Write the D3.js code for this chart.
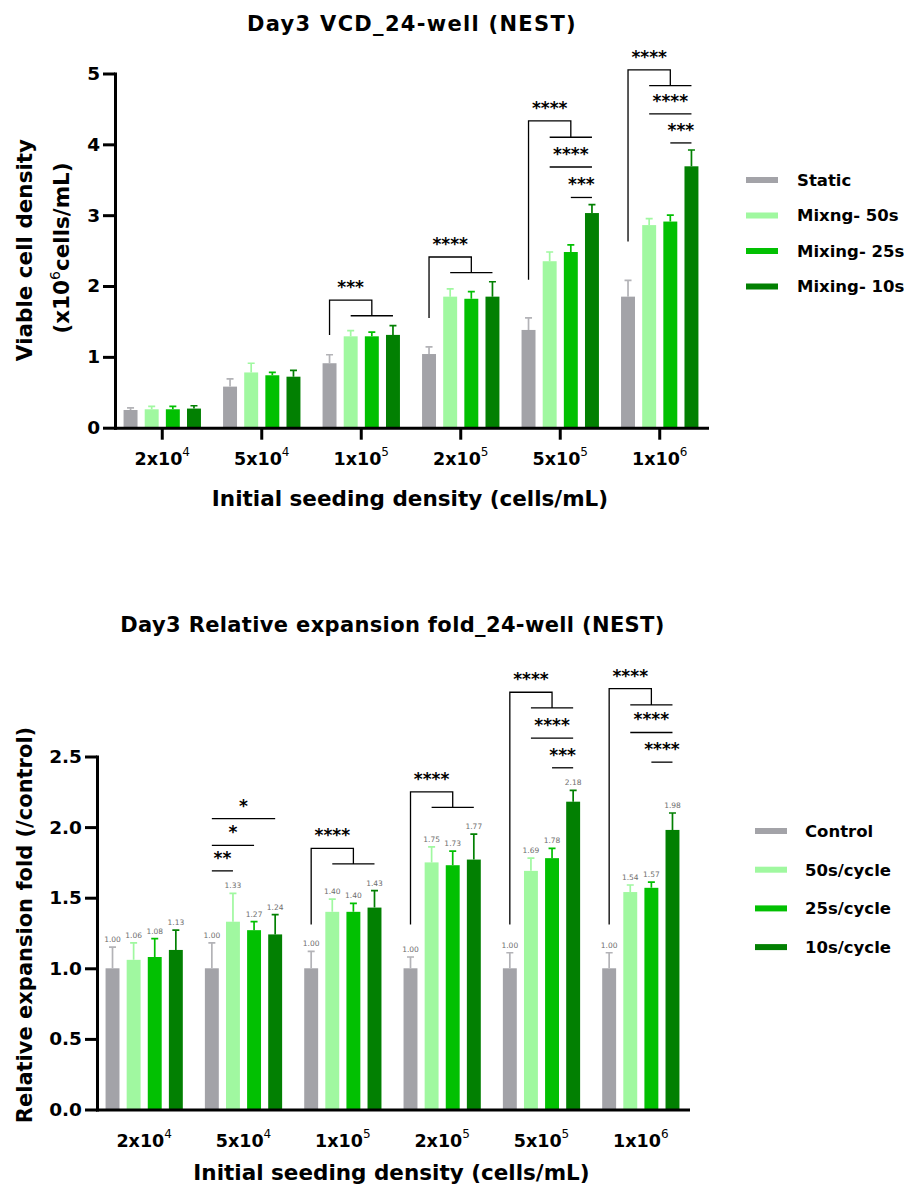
<!DOCTYPE html>
<html>
<head>
<meta charset="utf-8">
<script src="https://cdn.jsdelivr.net/npm/d3@7/dist/d3.min.js"></script>
<style>
  body { margin: 0; background: #fff; }
  svg { display: block; font-family: "DejaVu Sans", sans-serif; }
</style>
</head>
<body>
<svg id="fig" width="904" height="1187"></svg>
<script>
// Initial seeding densities (mantissa x 10^exponent)
const densities = ["2x10^4", "5x10^4", "1x10^5", "2x10^5", "5x10^5", "1x10^6"];

// Day 3 viable cell density (x10^6 cells/mL): mean and SD per density, per condition
const vcdSeries = ["Static", "Mixng- 50s", "Mixing- 25s", "Mixing- 10s"];
const vcdMean = [
  [0.25, 0.26, 0.26, 0.27],
  [0.58, 0.78, 0.74, 0.72],
  [0.91, 1.29, 1.29, 1.31],
  [1.04, 1.85, 1.82, 1.85],
  [1.38, 2.35, 2.48, 3.03],
  [1.85, 2.86, 2.91, 3.69]
];
const vcdSD = [
  [0.03, 0.04, 0.04, 0.04],
  [0.11, 0.13, 0.04, 0.09],
  [0.12, 0.08, 0.06, 0.13],
  [0.10, 0.11, 0.10, 0.21],
  [0.17, 0.13, 0.10, 0.12],
  [0.23, 0.09, 0.09, 0.23]
];
const vcdTicks = [0, 1, 2, 3, 4, 5];

// Day 3 expansion fold relative to the static control
const foldSeries = ["Control", "50s/cycle", "25s/cycle", "10s/cycle"];
const foldMean = [
  [1.00, 1.06, 1.08, 1.13],
  [1.00, 1.33, 1.27, 1.24],
  [1.00, 1.40, 1.40, 1.43],
  [1.00, 1.75, 1.73, 1.77],
  [1.00, 1.69, 1.78, 2.18],
  [1.00, 1.54, 1.57, 1.98]
];
const foldSD = [
  [0.15, 0.12, 0.13, 0.14],
  [0.18, 0.20, 0.06, 0.14],
  [0.12, 0.09, 0.06, 0.12],
  [0.08, 0.11, 0.10, 0.18],
  [0.11, 0.09, 0.07, 0.08],
  [0.11, 0.05, 0.04, 0.12]
];
const foldTicks = [0, 0.5, 1.0, 1.5, 2.0, 2.5];

// Significance annotations (levels in data units).
// bracket: control vs. the three mixing conditions; line: pairwise comparison
const vcdSig = [
  { group: 2, kind: "bracket", stars: "***",  leg: 1.31, top: 1.80, sub: 1.58 },
  { group: 3, kind: "bracket", stars: "****", leg: 1.55, top: 2.41, sub: 2.19 },
  { group: 4, kind: "bracket", stars: "****", leg: 2.09, top: 4.33, sub: 4.10 },
  { group: 4, kind: "line", from: 1, to: 3, stars: "****", at: 3.68 },
  { group: 4, kind: "line", from: 2, to: 3, stars: "***",  at: 3.25 },
  { group: 5, kind: "bracket", stars: "****", leg: 2.63, top: 5.05, sub: 4.83 },
  { group: 5, kind: "line", from: 1, to: 3, stars: "****", at: 4.43 },
  { group: 5, kind: "line", from: 2, to: 3, stars: "***",  at: 4.02 }
];
const foldSig = [
  { group: 1, kind: "line", from: 0, to: 3, stars: "*",  at: 2.06 },
  { group: 1, kind: "line", from: 0, to: 2, stars: "*",  at: 1.87 },
  { group: 1, kind: "line", from: 0, to: 1, stars: "**", at: 1.69 },
  { group: 2, kind: "bracket", stars: "****", leg: 1.31, top: 1.85, sub: 1.74 },
  { group: 3, kind: "bracket", stars: "****", leg: 1.31, top: 2.25, sub: 2.14 },
  { group: 4, kind: "bracket", stars: "****", leg: 1.31, top: 2.955, sub: 2.845 },
  { group: 4, kind: "line", from: 1, to: 3, stars: "****", at: 2.63 },
  { group: 4, kind: "line", from: 2, to: 3, stars: "***",  at: 2.42 },
  { group: 5, kind: "bracket", stars: "****", leg: 1.31, top: 2.98, sub: 2.865 },
  { group: 5, kind: "line", from: 1, to: 3, stars: "****", at: 2.67 },
  { group: 5, kind: "line", from: 2, to: 3, stars: "****", at: 2.46 }
];

const barColors = ["#a3a3a8", "#a0f8a0", "#02c002", "#028002"];
const errColors = ["#b3b3b7", "#a0f8a0", "#02c002", "#028002"];

const svg = d3.select("#fig");

function drawChart(cfg) {
  const g = svg.append("g");
  const x0 = d3.scaleBand().domain(d3.range(densities.length))
    .range([cfg.left, cfg.right]).paddingInner(0.15).paddingOuter(0.05);
  const x1 = d3.scaleBand().domain(d3.range(4))
    .range([0, x0.bandwidth()]).paddingInner(0.34).paddingOuter(0.17);
  const y = d3.scaleLinear().domain([0, cfg.yMax]).range([cfg.bottom, cfg.top]);
  const cx = (gi, si) => x0(gi) + x1(si) + x1.bandwidth() / 2;

  // title
  g.append("text")
    .attr("x", cfg.titleX).attr("y", cfg.titleY)
    .attr("text-anchor", "middle")
    .attr("font-size", 21).attr("font-weight", "bold")
    .attr("letter-spacing", cfg.titleSpacing)
    .text(cfg.title);

  // bars
  const groups = g.selectAll("g.grp").data(cfg.mean).join("g").attr("class", "grp");
  groups.selectAll("rect").data((d, gi) => d.map((v, si) => ({ v, gi, si })))
    .join("rect")
    .attr("x", d => x0(d.gi) + x1(d.si))
    .attr("width", x1.bandwidth())
    .attr("y", d => y(d.v))
    .attr("height", d => y(0) - y(d.v))
    .attr("fill", d => barColors[d.si]);

  // error bars (upper whisker with cap)
  const errs = [];
  cfg.mean.forEach((row, gi) => row.forEach((v, si) => errs.push({ gi, si, v, hi: v + cfg.sd[gi][si] })));
  const eg = g.append("g").attr("stroke-width", 1.7).attr("fill", "none");
  eg.selectAll("path").data(errs).join("path")
    .attr("stroke", d => errColors[d.si])
    .attr("d", d => {
      const xc = cx(d.gi, d.si);
      return `M${xc},${y(d.v)}V${y(d.hi)}M${xc - 3.5},${y(d.hi)}H${xc + 3.5}`;
    });

  if (cfg.valueLabels) {
    g.append("g").selectAll("text").data(errs).join("text")
      .attr("x", d => cx(d.gi, d.si))
      .attr("y", d => y(d.hi) - 5)
      .attr("text-anchor", "middle")
      .attr("font-size", 7.5)
      .attr("fill", "#6e6e6e")
      .text(d => d3.format(".2f")(d.v));
  }

  // y axis
  const ya = g.append("g").attr("transform", `translate(${cfg.left},0)`)
    .call(d3.axisLeft(y).tickValues(cfg.ticks).tickFormat(cfg.tickFmt)
      .tickSize(12).tickSizeOuter(0).tickPadding(3));
  ya.select(".domain").attr("stroke-width", 3).attr("stroke-linecap", "square");
  ya.selectAll(".tick line").attr("stroke-width", 3);
  ya.selectAll(".tick text").attr("font-size", 18.5).attr("font-weight", "bold")
    .attr("fill", "#000").attr("font-family", "DejaVu Sans");

  // x axis
  const xa = g.append("g").attr("transform", `translate(0,${cfg.bottom})`)
    .call(d3.axisBottom(x0).tickSize(cfg.xTickSize).tickSizeOuter(0).tickFormat(""));
  xa.select(".domain").attr("stroke-width", 3).attr("stroke-linecap", "square");
  xa.selectAll(".tick line").attr("stroke-width", 3);

  // category labels with exponent superscripts
  const lab = g.append("g").selectAll("text").data(densities).join("text")
    .attr("x", (d, i) => x0(i) + x0.bandwidth() / 2)
    .attr("y", cfg.bottom + 37)
    .attr("text-anchor", "middle")
    .attr("font-size", 17.5).attr("font-weight", "bold");
  lab.append("tspan").text(d => d.split("^")[0]);
  lab.append("tspan").attr("dy", -9).attr("font-size", 12).attr("font-weight", "normal")
    .text(d => d.split("^")[1]);

  // x axis title
  g.append("text")
    .attr("x", (cfg.left + cfg.right) / 2 - 1).attr("y", cfg.xTitleY)
    .attr("text-anchor", "middle")
    .attr("font-size", 21.5).attr("font-weight", "bold")
    .text("Initial seeding density (cells/mL)");

  // y axis title
  cfg.yTitle(g);

  // significance marks
  const sg = g.append("g");
  cfg.sig.forEach(s => {
    if (s.kind === "bracket") {
      const xg = cx(s.group, 0);
      const xm = cx(s.group, 2);
      sg.append("path").attr("fill", "none").attr("stroke", "#000").attr("stroke-width", 1.3)
        .attr("d", `M${xg},${y(s.leg)}V${y(s.top)}H${xm}V${y(s.sub)}M${cx(s.group, 1)},${y(s.sub)}H${cx(s.group, 3)}`);
      sg.append("text").attr("x", (xg + xm) / 2).attr("y", y(s.top) - 7)
        .attr("text-anchor", "middle").attr("font-size", 17).attr("font-weight", "bold")
        .text(s.stars);
    } else {
      const xa_ = cx(s.group, s.from), xb = cx(s.group, s.to);
      sg.append("path").attr("fill", "none").attr("stroke", "#000").attr("stroke-width", 1.3)
        .attr("d", `M${xa_},${y(s.at)}H${xb}`);
      sg.append("text").attr("x", (xa_ + xb) / 2).attr("y", y(s.at) - 7)
        .attr("text-anchor", "middle").attr("font-size", 17).attr("font-weight", "bold")
        .text(s.stars);
    }
  });

  // legend
  const lg = g.append("g");
  cfg.series.forEach((name, i) => {
    const ry = cfg.legY + i * cfg.legDy;
    lg.append("rect").attr("x", cfg.legX).attr("y", ry - 3).attr("width", 32).attr("height", 6)
      .attr("fill", barColors[i]);
    lg.append("text").attr("x", cfg.legX + cfg.legGap).attr("y", ry)
      .attr("dy", "0.36em").attr("font-size", 16.5).attr("font-weight", "bold")
      .text(name);
  });
}

drawChart({
  title: "Day3 VCD_24-well (NEST)", titleX: 412, titleY: 31, titleSpacing: 1.3,
  left: 115, right: 707, top: 73.5, bottom: 427.7, yMax: 5,
  ticks: vcdTicks, tickFmt: d3.format("d"),
  mean: vcdMean, sd: vcdSD, series: vcdSeries, sig: vcdSig,
  xTickSize: 12, valueLabels: false, xTitleY: 506,
  legX: 746, legY: 180, legDy: 35.5, legGap: 51,
  yTitle: g => {
    g.append("text").attr("transform", "translate(32,250) rotate(-90)")
      .attr("text-anchor", "middle").attr("font-size", 21.5).attr("font-weight", "bold")
      .text("Viable cell density");
    const t = g.append("text").attr("transform", "translate(69,248) rotate(-90)")
      .attr("text-anchor", "middle").attr("font-size", 21.5).attr("font-weight", "bold");
    t.append("tspan").text("(x10");
    t.append("tspan").attr("dy", -9).attr("font-size", 14).attr("font-weight", "normal").text("6");
    t.append("tspan").attr("dy", 9).text("cells/mL)");
  }
});

drawChart({
  title: "Day3 Relative expansion fold_24-well (NEST)", titleX: 392.5, titleY: 632, titleSpacing: 0.35,
  left: 97, right: 688, top: 756.5, bottom: 1109.5, yMax: 2.5,
  ticks: foldTicks, tickFmt: d3.format(".1f"),
  mean: foldMean, sd: foldSD, series: foldSeries, sig: foldSig,
  xTickSize: 0, valueLabels: true, xTitleY: 1180,
  legX: 755, legY: 831, legDy: 38.7, legGap: 50,
  yTitle: g => {
    g.append("text").attr("transform", "translate(32,925) rotate(-90)")
      .attr("text-anchor", "middle").attr("font-size", 21).attr("font-weight", "bold")
      .text("Relative expansion fold (/control)");
  }
});
</script>
</body>
</html>
